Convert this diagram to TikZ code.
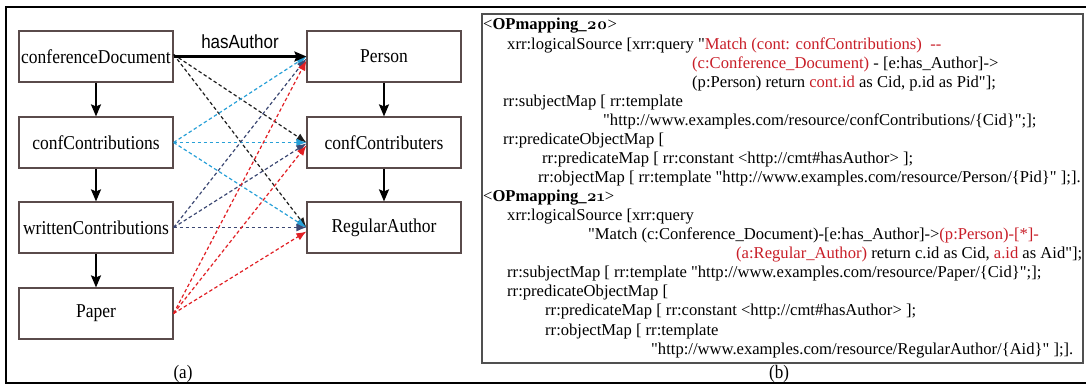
\documentclass[tikz,border=0pt]{standalone}
\usepackage{fontspec}
\usepackage{graphicx}
\setmainfont{Liberation Serif}
\newfontfamily\codefont{Liberation Serif}[Ligatures=TeXOff]
\newfontfamily\arialf{Liberation Sans}
\newfontfamily\osf[Numbers=OldStyle]{Latin Modern Roman}
\usetikzlibrary{arrows.meta}
\definecolor{boxc}{RGB}{90,75,75}
\definecolor{redt}{RGB}{200,30,40}
\definecolor{cyanl}{RGB}{40,160,215}
\definecolor{navyl}{RGB}{60,72,115}
\definecolor{redl}{RGB}{225,30,35}
\definecolor{blackl}{RGB}{30,30,30}
\definecolor{frameb}{RGB}{80,80,80}
\newcommand\vst[1]{\scalebox{1}[1.12]{#1}}
\newcommand\rd[1]{\textcolor{redt}{#1}}
\begin{document}
\begin{tikzpicture}[x=1pt,y=-1pt,
  ebox/.style={draw=boxc, line width=1.2pt, minimum width=154pt, minimum height=51pt, inner sep=0pt, font=\fontsize{17.5}{20}\selectfont},
  varr/.style={line width=1.8pt, -{Stealth[length=12pt,width=10pt,inset=2pt]}},
  darr/.style={line width=1.2pt, dash pattern=on 3.5pt off 2.5pt, -{Latex[length=10pt,width=8pt]}},
  code/.style={anchor=base west, inner sep=0pt, font=\codefont\fontsize{16.6}{19}\selectfont},
  lab/.style={inner sep=0pt, font=\fontsize{17}{20}\selectfont}
]
\useasboundingbox (0,0) rectangle (1086,385);
% outer frame
\draw[line width=2.4pt] (1086,7) -- (6,7) -- (6,383) -- (1086,383);
% panel (b) box
\draw[draw=frameb, line width=1.4pt] (482,14) rectangle (1083,363);

% left boxes
\node[ebox] (cd) at (96,56.5) {\vst{conferenceDocument}};
\node[ebox] (cc) at (96,142.5) {\vst{confContributions}};
\node[ebox] (wc) at (96,227.5) {\vst{writtenContributions}};
\node[ebox] (pa) at (96,313.5) {\vst{Paper}};
\node[ebox] (pe) at (384,56.5) {\vst{Person}};
\node[ebox] (cs) at (384,142.5) {\vst{confContributers}};
\node[ebox] (ra) at (384,227.5) {\vst{RegularAuthor}};

% vertical arrows
\draw[varr] (cd.south) -- (cc.north);
\draw[varr] (cc.south) -- (wc.north);
\draw[varr] (wc.south) -- (pa.north);
\draw[varr] (pe.south) -- (cs.north);
\draw[varr] (cs.south) -- (ra.north);

% dashed connectors
\draw[darr, blackl] ([yshift=2pt]cd.east) -- (cs.west);
\draw[darr, blackl] ([yshift=2pt]cd.east) -- (ra.west);
\draw[darr, cyanl] (cc.east) -- (pe.west);
\draw[darr, cyanl] (cc.east) -- (cs.west);
\draw[darr, cyanl] (cc.east) -- (ra.west);
\draw[darr, navyl] (wc.east) -- ([yshift=-2pt]pe.west);
\draw[darr, navyl] (wc.east) -- ([yshift=-1pt]cs.west);
\draw[darr, navyl] (wc.east) -- (ra.west);
\draw[darr, redl] (pa.east) -- ([yshift=-4pt]pe.west);
\draw[darr, redl] (pa.east) -- ([yshift=-3pt]cs.west);
\draw[darr, redl] (pa.east) -- ([yshift=-4pt]ra.west);

% hasAuthor
\draw[line width=2.2pt, -{Stealth[length=12pt,width=10pt,inset=2pt]}] (cd.east) -- node[above=3pt, font=\arialf\fontsize{17}{19}\selectfont] (ha) {\vst{hasAuthor}} (pe.west);

% captions
\node[lab] (capa) at (183,374) {\vst{(a)}};
\node[lab] (capb) at (779,374) {\vst{(b)}};

% code text
\node[code] (l0) at (483,30) {<\textbf{OPmapping\_{\osf 20}}>};
\node[code] (l1) at (507,49.1) {xrr:logicalSource [xrr:query "\rd{Match (cont: confContributions)\ \ --}};
\node[code] (l2) at (692,68.1) {\rd{(c:Conference\_Document)} - [e:has\_Author]->};
\node[code] (l3) at (692,87.2) {(p:Person) return \rd{cont.id} as Cid, p.id as Pid"];};
\node[code] (l4) at (503,106.2) {rr:subjectMap [ rr:template};
\node[code] (l5) at (603,125.3) {"http://www.examples.com/resource/confContributions/\{Cid\}";];};
\node[code] (l6) at (503,144.4) {rr:predicateObjectMap [};
\node[code] (l7) at (542,163.4) {rr:predicateMap [ rr:constant <http://cmt\#hasAuthor> ];};
\node[code] (l8) at (538,182.5) {rr:objectMap [ rr:template "http://www.examples.com/resource/Person/\{Pid\}" ];].};
\node[code] (l9) at (483,201.5) {<\textbf{OPmapping\_{\osf 21}}>};
\node[code] (l10) at (507,220.6) {xrr:logicalSource [xrr:query};
\node[code] (l11) at (588,239.7) {"Match (c:Conference\_Document)-[e:has\_Author]->\rd{(p:Person)-[*]-}};
\node[code] (l12) at (736,258.7) {\rd{(a:Regular\_Author)} return c.id as Cid, \rd{a.id} as Aid"];};
\node[code] (l13) at (507,277.8) {rr:subjectMap [ rr:template "http://www.examples.com/resource/Paper/\{Cid\}";];};
\node[code] (l14) at (507,296.8) {rr:predicateObjectMap [};
\node[code] (l15) at (545,315.9) {rr:predicateMap [ rr:constant <http://cmt\#hasAuthor> ];};
\node[code] (l16) at (545,335) {rr:objectMap [ rr:template};
\node[code] (l17) at (651,354) {"http://www.examples.com/resource/RegularAuthor/\{Aid\}" ];].};
\end{tikzpicture}
\end{document}
